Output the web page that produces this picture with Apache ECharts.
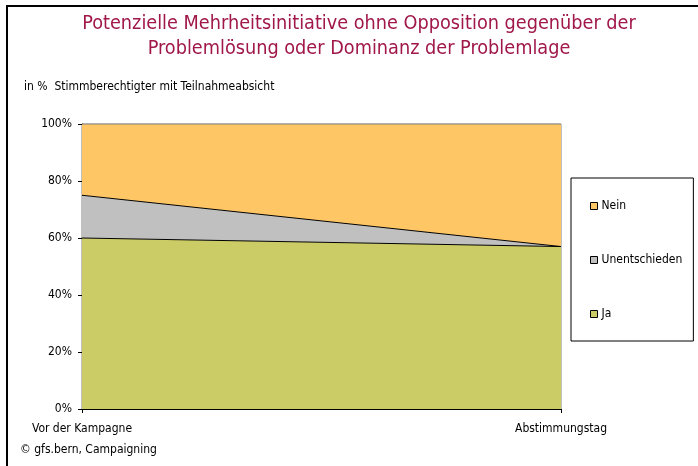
<!DOCTYPE html>
<html><head><meta charset="utf-8">
<script src="https://cdn.jsdelivr.net/npm/echarts@6/dist/echarts.min.js"></script>
<style>html,body{margin:0;padding:0;background:#fff}#c{width:698px;height:466px}</style>
</head><body><div id="c"></div>
<script>
var categories = ['Vor der Kampagne', 'Abstimmungstag'];
var ja = [60, 57];
var unentschieden = [15, 0];
var nein = [25, 43];
var yTicks = [0, 20, 40, 60, 80, 100];
var FONT = '"DejaVu Sans Condensed", "DejaVu Sans", sans-serif';

var chart = echarts.init(document.getElementById('c'), null, {renderer: 'canvas'});
function area(name, data, color, lineColor) {
  return {
    name: name, type: 'line', stack: 'total', data: data,
    symbol: 'none', silent: true,
    lineStyle: {color: lineColor, width: 1},
    itemStyle: {color: color, borderColor: '#000', borderWidth: 1},
    areaStyle: {color: color, opacity: 1}
  };
}
chart.setOption({
  animation: false,
  textStyle: {fontFamily: FONT},
  title: {
    text: 'Potenzielle Mehrheitsinitiative ohne Opposition gegenüber der\nProblemlösung oder Dominanz der Problemlage',
    left: 354, textAlign: 'center', top: 6,
    textStyle: {color: '#A0174A', fontSize: 19.7, fontWeight: 'normal', fontFamily: FONT, lineHeight: 25}
  },
  graphic: [
    {type: 'rect', shape: {x: 7, y: 6, width: 700, height: 470}, style: {fill: 'none', stroke: '#000', lineWidth: 2}, silent: true},
    {type: 'text', left: 24, top: 81, style: {text: 'in %  Stimmberechtigter mit Teilnahmeabsicht', font: '12px ' + FONT, fill: '#000'}},
    {type: 'text', left: 20, top: 444, style: {text: '© gfs.bern, Campaigning', font: '12px ' + FONT, fill: '#000'}}
  ],
  legend: {
    data: ['Nein', 'Unentschieden', 'Ja'],
    orient: 'vertical', left: 571, top: 178,
    padding: [22, 11, 21, 19], itemGap: 42,
    itemWidth: 7, itemHeight: 7, icon: 'rect',
    itemStyle: {borderColor: '#000', borderWidth: 1},
    borderColor: '#000', borderWidth: 1, backgroundColor: '#fff',
    textStyle: {fontSize: 12, color: '#000', fontFamily: FONT, padding: [0, 0, 0, -1]},
    selectedMode: false
  },
  grid: {left: 82, right: 137, top: 124, bottom: 57, show: true, borderColor: '#808080', borderWidth: 1, backgroundColor: 'transparent'},
  xAxis: {
    type: 'category', data: categories, boundaryGap: false,
    axisLine: {lineStyle: {color: '#000', width: 1}},
    axisTick: {show: true, length: 4, lineStyle: {color: '#000'}},
    axisLabel: {color: '#000', fontSize: 12, margin: 14, fontFamily: FONT}
  },
  yAxis: {
    type: 'value', min: 0, max: 100, interval: 20,
    axisLine: {show: true, lineStyle: {color: '#000', width: 1}},
    axisTick: {show: true, length: 4, lineStyle: {color: '#000'}},
    splitLine: {show: false},
    axisLabel: {color: '#000', fontSize: 12, margin: 10, fontFamily: FONT,
      formatter: function (v) { return yTicks.indexOf(v) >= 0 ? v + '%' : ''; }}
  },
  series: [
    area('Ja', ja, '#CCCC66', '#000'),
    area('Unentschieden', unentschieden, '#C0C0C0', '#000'),
    area('Nein', nein, '#FFC666', '#808080')
  ]
});
</script></body></html>
